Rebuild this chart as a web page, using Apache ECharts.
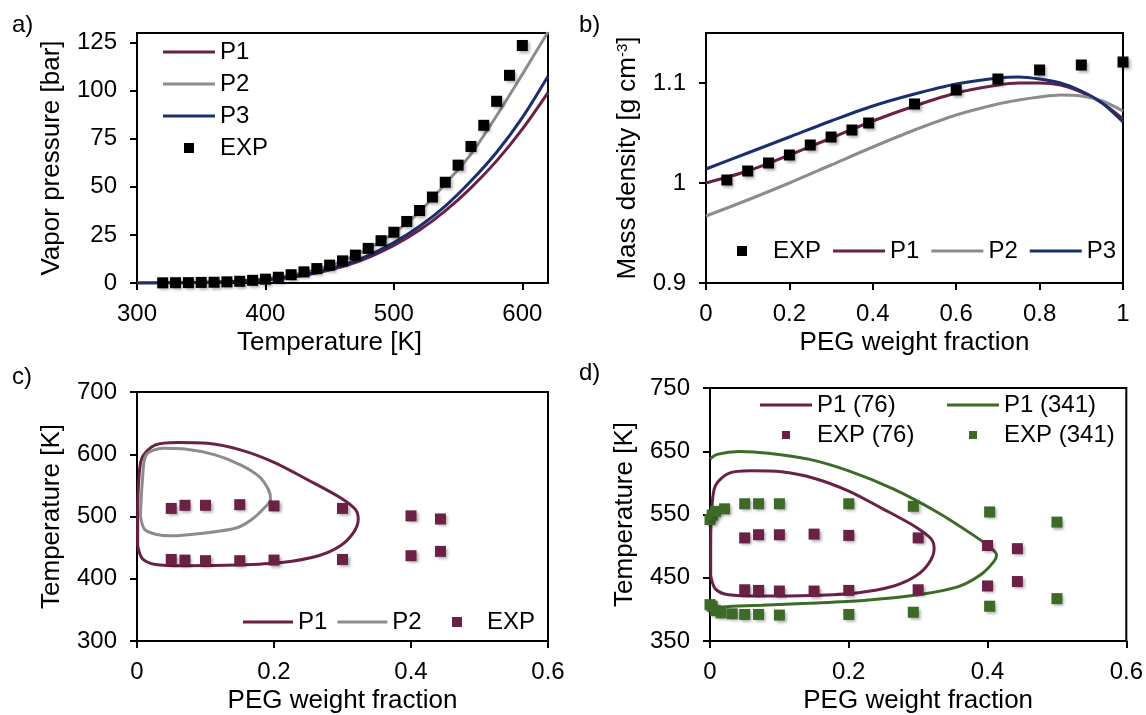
<!DOCTYPE html>
<html>
<head>
<meta charset="utf-8">
<script src="https://cdn.jsdelivr.net/npm/echarts@6/dist/echarts.min.js"></script>
<style>
  html, body { margin: 0; padding: 0; background: #fff; }
  #chart { width: 1146px; height: 715px; }
</style>
</head>
<body>
<div id="chart"></div>
<script>
// a) vapor pressure
const aT = [300, 320, 340, 360, 380, 400, 420, 440, 460, 480, 500, 520, 540, 560, 580, 600, 620];
const aP1 = [0, 0.05, 0.15, 0.35, 0.8, 1.6, 3.0, 5.2, 8.5, 13.2, 19.5, 27.5, 37.5, 49.5, 63.5, 80, 99];
const aP2 = [0, 0.1, 0.2, 0.5, 1.1, 2.2, 4.0, 7.0, 11.5, 18, 26, 37, 51.5, 67, 87, 108.5, 130.5];
const aP3 = [0, 0.1, 0.2, 0.4, 0.9, 1.8, 3.3, 5.7, 9.3, 14.3, 21, 29.5, 40, 53, 68, 86, 107.5];
const aExpT = [320, 330, 340, 350, 360, 370, 380, 390, 400, 410, 420, 430, 440, 450, 460, 470, 480, 490, 500, 510, 520, 530, 540, 550, 560, 570, 580, 590, 600];
const aExpP = [0.1, 0.15, 0.2, 0.3, 0.4, 0.6, 0.9, 1.4, 2.0, 3.0, 4.3, 5.8, 7.5, 9.3, 11.5, 14.5, 18, 22, 26.4, 32, 37.7, 44.7, 52.4, 61.3, 71, 82, 94.5, 108, 123.5];

// b) mass density
const bX = [0, 0.1, 0.2, 0.3, 0.4, 0.5, 0.6, 0.7, 0.75, 0.8, 0.85, 0.9, 0.95, 1];
const bP1 = [1.000, 1.012, 1.028, 1.045, 1.062, 1.077, 1.090, 1.098, 1.100, 1.100, 1.098, 1.091, 1.080, 1.064];
const bP2 = [0.967, 0.983, 1.000, 1.018, 1.036, 1.053, 1.068, 1.079, 1.083, 1.086, 1.088, 1.087, 1.082, 1.072];
const bP3 = [1.014, 1.030, 1.046, 1.062, 1.077, 1.089, 1.099, 1.105, 1.106, 1.104, 1.100, 1.092, 1.080, 1.061];
const bExpX = [0.05, 0.1, 0.15, 0.2, 0.25, 0.3, 0.35, 0.39, 0.5, 0.6, 0.7, 0.8, 0.9, 1.0];
const bExpY = [1.003, 1.012, 1.020, 1.028, 1.038, 1.046, 1.053, 1.060, 1.079, 1.093, 1.104, 1.113, 1.118, 1.121];

// c) phase envelope, PEG 76
const cP1X = [0.001, 0.001, 0.003, 0.008, 0.027, 0.059, 0.103, 0.151, 0.2, 0.249, 0.297, 0.319, 0.323, 0.316, 0.297, 0.265, 0.211, 0.146, 0.070, 0.027, 0.008, 0.001];
const cP1T = [453, 501, 565, 596, 615, 619, 617.6, 607, 587, 559, 530, 511, 495.5, 474, 453, 437, 426, 422, 421, 423, 432, 453];
const cP2X = [0.005, 0.008, 0.0135, 0.038, 0.070, 0.114, 0.151, 0.178, 0.192, 0.195, 0.186, 0.168, 0.146, 0.103, 0.049, 0.027, 0.011, 0.005];
const cP2T = [501, 559, 599, 609.7, 608.6, 599, 583, 564.5, 543, 527, 514, 495.5, 482, 474, 469, 471.6, 479.5, 501];
const cExpX = [0.05, 0.07, 0.1, 0.15, 0.2, 0.3, 0.4, 0.443, 0.05, 0.07, 0.1, 0.15, 0.2, 0.3, 0.4, 0.443];
const cExpT = [513, 518, 518, 519, 517, 513, 501, 496, 431, 430, 429, 429, 430, 431, 437, 444];

// d) PEG 76 vs 341 (left side of the 341 envelope sits on the axis, not drawn)
const dG_X = [0.0, 0.0105, 0.042, 0.084, 0.142, 0.2, 0.264, 0.327, 0.38, 0.406, 0.413, 0.409, 0.39, 0.358, 0.3, 0.221, 0.142, 0.074, 0.032, 0.0105, 0.002, 0.0];
const dG_T = [637.6, 645, 649.6, 647, 637.6, 619, 590.5, 554, 517, 496, 486, 475.5, 454.6, 436, 423, 414, 409.6, 406.5, 405, 403.5, 406, 412];
const dExpGX = [0.0, 0.003, 0.008, 0.021, 0.05, 0.07, 0.1, 0.2, 0.293, 0.403, 0.5, 0.0, 0.003, 0.008, 0.016, 0.032, 0.05, 0.07, 0.1, 0.2, 0.293, 0.403, 0.5];
const dExpGT = [542, 549, 555, 559, 567, 567, 567, 567, 563, 554, 538, 407.5, 405, 398, 394.5, 393, 392, 392, 391, 392, 395.5, 405, 417];

const FONT = "'Liberation Sans', Arial, sans-serif";
const MAROON = '#6b2046';
const GRAY = '#8c8c8c';
const BLUE = '#1b2f6e';
const GREEN = '#3d6b27';
const LINE_ICON = 'path://M0,0h50v3h-50z';
const SQ_ICON = 'path://M0,0h10v10h-10z';

function xAx(gi, min, max, step, name, hideMax, shift) {
  return {
    type: 'value', gridIndex: gi, min: min, max: max, interval: step,
    name: name, nameLocation: 'middle', nameGap: 47,
    nameTextStyle: { fontSize: 26, color: '#000', fontFamily: FONT, padding: [0, shift || 0, 0, 0] },
    axisLine: { show: true, onZero: false, lineStyle: { color: '#000', width: 2 } },
    axisTick: { show: true, length: 7, lineStyle: { color: '#000', width: 2 } },
    axisLabel: { fontSize: 24, color: '#000', fontFamily: FONT, margin: 19, showMaxLabel: !hideMax },
    splitLine: { show: false }
  };
}

function yAx(gi, min, max, step, name, gap, hideMax) {
  return {
    type: 'value', gridIndex: gi, min: min, max: max, interval: step,
    name: name, nameLocation: 'middle', nameGap: gap,
    nameTextStyle: {
      fontSize: 26, color: '#000', fontFamily: FONT,
      rich: {
        a: { fontSize: 26, color: '#000', fontFamily: FONT },
        s: { fontSize: 15, color: '#000', fontFamily: FONT, verticalAlign: 'top', padding: [0, 0, 10, 0] }
      }
    },
    axisLine: { show: true, onZero: false, lineStyle: { color: '#000', width: 2 } },
    axisTick: { show: true, length: 7, lineStyle: { color: '#000', width: 2 } },
    axisLabel: { fontSize: 24, color: '#000', fontFamily: FONT, margin: 20, showMaxLabel: !hideMax },
    splitLine: { show: false }
  };
}

function pairs(xs, ys) {
  return xs.map((x, i) => [x, ys[i]]);
}

function line(name, gi, xs, ys, color) {
  return {
    name: name, type: 'line', xAxisIndex: gi, yAxisIndex: gi,
    data: pairs(xs, ys), smooth: 0.3, symbol: 'none',
    lineStyle: { color: color, width: 3 }, itemStyle: { color: color }, z: 2
  };
}

function pts(name, gi, xs, ys, color) {
  return {
    name: name, type: 'scatter', xAxisIndex: gi, yAxisIndex: gi,
    data: pairs(xs, ys), symbol: 'rect', symbolSize: 11,
    itemStyle: { color: color, opacity: 1, shadowBlur: 3, shadowColor: 'rgba(0,0,0,0.35)', shadowOffsetX: 2, shadowOffsetY: 2 },
    z: 3
  };
}

// legend entries: lines get a thin bar icon, points a small square
function entry(name) {
  return { name: name, icon: name.indexOf('EXP') >= 0 ? SQ_ICON : LINE_ICON };
}

function legend(opts, names) {
  return Object.assign({
    orient: 'horizontal', padding: 0, itemWidth: 52, itemHeight: 10, itemGap: 12,
    selectedMode: false,
    formatter: n => n.split(':')[1],
    textStyle: { fontSize: 24, color: '#000', fontFamily: FONT },
    data: names.map(entry)
  }, opts);
}

function panelLabel(txt, x, y) {
  return { type: 'text', left: x, top: y, style: { text: txt, fill: '#000', font: '24px ' + FONT } };
}

const chart = echarts.init(document.getElementById('chart'));
const gridStyle = { show: true, borderColor: '#000', borderWidth: 2, backgroundColor: 'transparent', containLabel: false };

chart.setOption({
  animation: false,
  backgroundColor: '#fff',
  grid: [
    Object.assign({ left: 137, top: 33, width: 411, height: 250 }, gridStyle),
    Object.assign({ left: 706, top: 33, width: 417, height: 250 }, gridStyle),
    Object.assign({ left: 137, top: 392, width: 411, height: 251 }, gridStyle),
    Object.assign({ left: 710, top: 388, width: 418, height: 255 }, gridStyle)
  ],
  xAxis: [
    xAx(0, 300, 620, 100, 'Temperature [K]', true, 26),
    xAx(1, 0, 1, 0.2, 'PEG weight fraction', false),
    xAx(2, 0, 0.6, 0.2, 'PEG weight fraction', false),
    xAx(3, 0, 0.6, 0.2, 'PEG weight fraction', false)
  ],
  yAxis: [
    yAx(0, 0, 130, 25, 'Vapor pressure [bar]', 72, true),
    yAx(1, 0.9, 1.15, 0.1, '{a|Mass density [g cm}{s|-3}{a|]}', 65, true),
    yAx(2, 300, 700, 100, 'Temperature [K]', 72, false),
    yAx(3, 350, 750, 100, 'Temperature [K]', 72, false)
  ],
  legend: [
    legend({ left: 163, top: 40, orient: 'vertical', itemGap: 8 }, ['a:P1', 'a:P2', 'a:P3', 'a:EXP']),
    legend({ left: 737, top: 239 }, ['b:EXP', 'b:P1', 'b:P2', 'b:P3']),
    legend({ left: 243, top: 610, itemWidth: 50, itemGap: 10 }, ['c:P1', 'c:P2']),
    legend({ left: 452, top: 610, itemWidth: 50 }, ['c:EXP']),
    legend({ left: 760, top: 393, orient: 'vertical', itemGap: 6, itemHeight: 8 }, ['d:P1 (76)', 'd:EXP (76)']),
    legend({ left: 947, top: 393, orient: 'vertical', itemGap: 6, itemHeight: 8 }, ['d:P1 (341)', 'd:EXP (341)'])
  ],
  graphic: [
    panelLabel('a)', 12, 13),
    panelLabel('b)', 579, 13),
    panelLabel('c)', 12, 365),
    panelLabel('d)', 579, 361)
  ],
  series: [
    line('a:P1', 0, aT, aP1, MAROON),
    line('a:P2', 0, aT, aP2, GRAY),
    line('a:P3', 0, aT, aP3, BLUE),
    pts('a:EXP', 0, aExpT, aExpP, '#000'),

    line('b:P1', 1, bX, bP1, MAROON),
    line('b:P2', 1, bX, bP2, GRAY),
    line('b:P3', 1, bX, bP3, BLUE),
    pts('b:EXP', 1, bExpX, bExpY, '#000'),

    line('c:P1', 2, cP1X, cP1T, MAROON),
    line('c:P2', 2, cP2X, cP2T, GRAY),
    pts('c:EXP', 2, cExpX, cExpT, MAROON),

    line('d:P1 (76)', 3, cP1X, cP1T, MAROON),
    line('d:P1 (341)', 3, dG_X, dG_T, GREEN),
    pts('d:EXP (76)', 3, cExpX, cExpT, MAROON),
    pts('d:EXP (341)', 3, dExpGX, dExpGT, GREEN)
  ]
});
</script>
</body>
</html>
